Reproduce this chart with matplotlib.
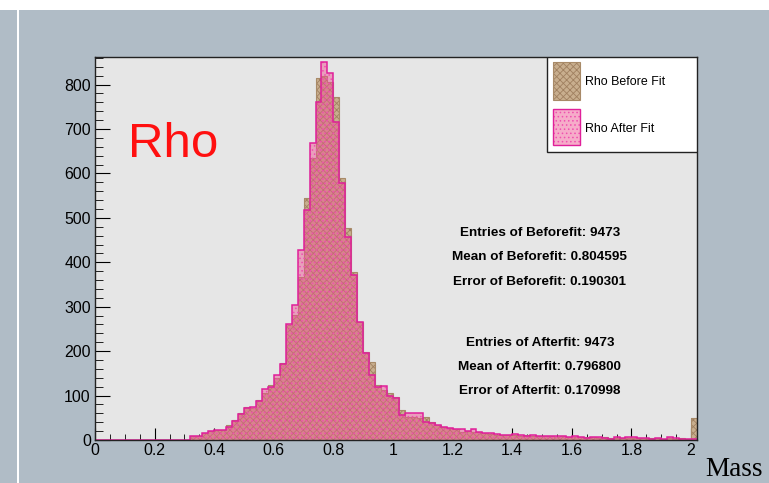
import matplotlib
matplotlib.use("Agg")
import matplotlib.pyplot as plt
from matplotlib.patches import Rectangle
from matplotlib.ticker import MultipleLocator
import numpy as np

plt.rcParams['font.family'] = ['Liberation Sans', 'DejaVu Sans']
plt.rcParams['hatch.linewidth'] = 0.6

# bin edges: 101 bins of width 0.02 starting at 0
edges = np.round(np.arange(102) * 0.02, 2)

before = [0] * 16 + [
    10, 9, 16, 20, 22, 22, 34, 45, 60, 75,
    72, 90, 105, 124, 140, 173, 259, 282, 367, 545,
    635, 815, 820, 805, 773, 590, 477, 378, 266, 198,
    176, 124, 113, 105, 97, 68, 52, 52, 50, 52,
    41, 34, 30, 27, 25, 18, 20, 18, 18, 15,
    14, 12, 12, 12, 12, 10, 11, 9, 10, 8,
    9, 7, 8, 7, 7, 6, 7, 6, 5, 6,
    5, 5, 4, 5, 4, 5, 4, 5, 4, 3,
    4, 3, 4, 3, 49]

after = [0] * 16 + [
    9, 10, 15, 20, 22, 23, 30, 42, 58, 73,
    74, 88, 114, 120, 146, 170, 262, 304, 428, 518,
    669, 761, 851, 826, 716, 579, 457, 372, 266, 196,
    146, 120, 122, 100, 95, 56, 60, 60, 60, 41,
    38, 33, 29, 27, 25, 25, 20, 25, 17, 15,
    15, 13, 11, 12, 13, 12, 10, 11, 9, 10,
    8, 8, 9, 6, 8, 7, 5, 6, 7, 4,
    3, 6, 5, 6, 6, 5, 4, 3, 5, 2,
    6, 4, 3, 2, 3]

stats_before = ["Entries of Beforefit: 9473",
                "Mean of Beforefit: 0.804595",
                "Error of Beforefit: 0.190301"]
stats_after = ["Entries of Afterfit: 9473",
               "Mean of Afterfit: 0.796800",
               "Error of Afterfit: 0.170998"]

bg = '#b0bcc6'
brown_face = '#c8ae8e'
brown_hatch = '#a08060'
pink_face = (0.93, 0.32, 0.56, 0.48)
pink_line = '#e0209a'

fig = plt.figure(figsize=(7.69, 4.83), dpi=100, facecolor=bg)
# white band on top and thin white line on the left
fig.patches.append(Rectangle((0, 1 - 10 / 483), 1, 10 / 483, transform=fig.transFigure,
                             facecolor='white', edgecolor='none', zorder=0))
fig.patches.append(Rectangle((17 / 769, 0), 2 / 769, 1 - 10 / 483, transform=fig.transFigure,
                             facecolor='white', edgecolor='none', zorder=0))

ax = fig.add_axes([95 / 769, 1 - 440 / 483, 602 / 769, 383 / 483])
ax.set_facecolor('#e6e6e6')

ax.stairs(before, edges, fill=True, facecolor=brown_face, edgecolor=brown_hatch,
          hatch='xxxxx', linewidth=0, zorder=2)
ax.stairs(before, edges, color='#a88a68', linewidth=0.8, zorder=3)
ax.stairs(after, edges, fill=True, facecolor=pink_face, edgecolor='#f050b0',
          hatch='....', linewidth=0, zorder=4)
ax.stairs(after, edges, color=pink_line, linewidth=1.1, zorder=5)

ax.set_xlim(0, 2.02)
ax.set_ylim(0, 862)

ax.xaxis.set_major_locator(MultipleLocator(0.2))
ax.xaxis.set_minor_locator(MultipleLocator(0.05))
ax.yaxis.set_major_locator(MultipleLocator(100))
ax.yaxis.set_minor_locator(MultipleLocator(20))
ax.set_xticks(np.round(np.arange(0, 2.01, 0.2), 1))
ax.set_xticklabels(['0', '0.2', '0.4', '0.6', '0.8', '1', '1.2', '1.4', '1.6', '1.8', '2'])
ax.tick_params(which='both', direction='in', labelsize=11.4, top=False, right=False)
ax.tick_params(axis='y', which='major', length=11, pad=3)
ax.tick_params(axis='y', which='minor', length=5.5)
ax.tick_params(axis='x', which='major', length=8.5, pad=2)
ax.tick_params(axis='x', which='minor', length=4.5)
for s in ax.spines.values():
    s.set_color('#222222')
    s.set_linewidth(1.0)
    s.set_zorder(6)

ax.text(0.054, 0.739, 'Rho', transform=ax.transAxes, color='#ff1010',
        fontsize=35.5, va='baseline', ha='left', zorder=7)

for txt, yy in zip(stats_before, [0.540, 0.478, 0.413]):
    ax.text(0.739, yy, txt, transform=ax.transAxes, fontsize=9.7, fontweight='bold',
            ha='center', va='center', zorder=7)
for txt, yy in zip(stats_after, [0.253, 0.190, 0.128]):
    ax.text(0.739, yy, txt, transform=ax.transAxes, fontsize=9.7, fontweight='bold',
            ha='center', va='center', zorder=7)

# legend box drawn in axes coordinates
ax.add_patch(Rectangle((0.751, 0.752), 0.249, 0.248, transform=ax.transAxes,
                       facecolor='white', edgecolor='#222222', linewidth=1.0, zorder=8))
ax.add_patch(Rectangle((0.761, 0.888), 0.045, 0.099, transform=ax.transAxes,
                       facecolor=brown_face, edgecolor=brown_hatch, hatch='xxxxx',
                       linewidth=0, zorder=9))
ax.add_patch(Rectangle((0.761, 0.888), 0.045, 0.099, transform=ax.transAxes,
                       facecolor='none', edgecolor='#a88a68', linewidth=0.8, zorder=10))
ax.add_patch(Rectangle((0.761, 0.770), 0.045, 0.094, transform=ax.transAxes,
                       facecolor=pink_face, edgecolor='#f050b0', hatch='....',
                       linewidth=0, zorder=9))
ax.add_patch(Rectangle((0.761, 0.770), 0.045, 0.094, transform=ax.transAxes,
                       facecolor='none', edgecolor=pink_line, linewidth=1.0, zorder=10))
ax.text(0.814, 0.935, 'Rho Before Fit', transform=ax.transAxes, fontsize=8.9,
        va='center', ha='left', zorder=10)
ax.text(0.814, 0.812, 'Rho After Fit', transform=ax.transAxes, fontsize=8.9,
        va='center', ha='left', zorder=10)

fig.text(705 / 769, 1 / 483, 'Mass', fontsize=19.5, family='Liberation Serif',
         ha='left', va='bottom')

fig.savefig('out.png', dpi=100, facecolor=bg)
